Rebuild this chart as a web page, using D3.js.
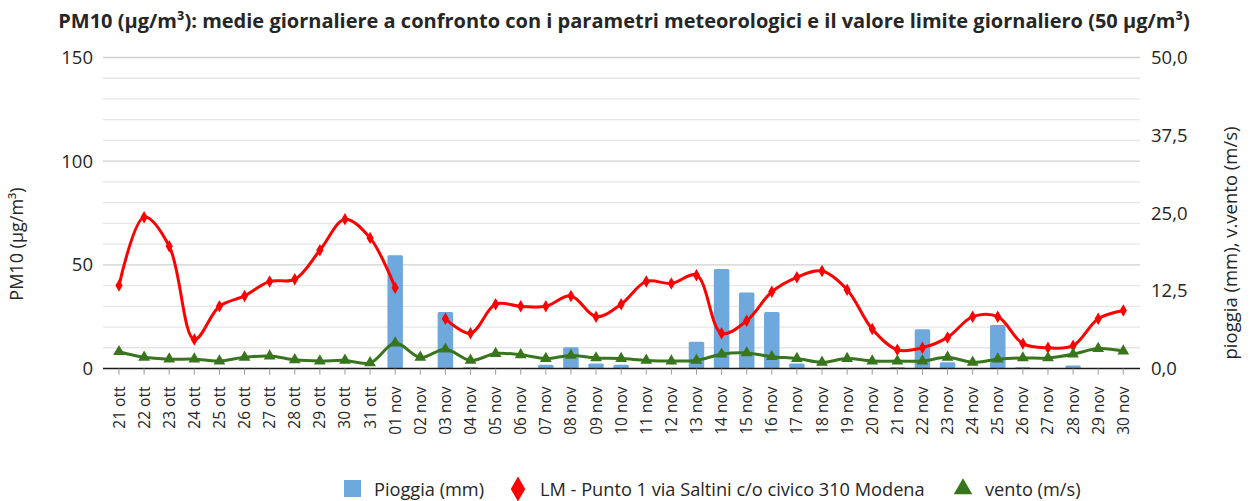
<!DOCTYPE html>
<html><head><meta charset="utf-8">
<script src="https://cdn.jsdelivr.net/npm/d3@7"></script>
<style>body{margin:0;background:#fff}svg{display:block}text{font-family:"Open Sans",sans-serif;fill:#262626}</style>
</head><body><svg id="c" width="1251" height="501"></svg>
<script>
const categories = ["21 ott","22 ott","23 ott","24 ott","25 ott","26 ott","27 ott","28 ott","29 ott","30 ott","31 ott",
"01 nov","02 nov","03 nov","04 nov","05 nov","06 nov","07 nov","08 nov","09 nov","10 nov","11 nov","12 nov","13 nov","14 nov","15 nov","16 nov","17 nov","18 nov","19 nov","20 nov","21 nov","22 nov","23 nov","24 nov","25 nov","26 nov","27 nov","28 nov","29 nov","30 nov"];
const pm10 = [40,73,59,14,30,35,42,43,57,72,63,
39,null,24,17,31,30,30,35,25,31,42,41,45,17,23,37,44,47,38,19,9,10,15,25,25,12,10,11,24,28];
const pioggia = [0,0,0,0,0,0,0,0,0,0,0,
18.2,0,9.1,0.2,0,0,0.6,3.4,0.8,0.6,0,0,4.3,16.0,12.2,9.1,0.8,0,0,0,0.2,6.3,1.0,0,7.0,0.2,0,0.5,0,0];
const vento = [2.7,1.8,1.5,1.5,1.2,1.8,2.0,1.4,1.2,1.3,0.9,
4.1,1.8,3.1,1.3,2.4,2.2,1.6,2.1,1.7,1.6,1.3,1.2,1.3,2.3,2.5,1.9,1.6,1.0,1.6,1.2,1.2,1.2,1.8,1.0,1.5,1.7,1.7,2.3,3.2,2.8];
const leftTicks = [0,50,100,150];
const rightTicks = [0,12.5,25,37.5,50];
const title = "PM10 (µg/m³): medie giornaliere a confronto con i parametri meteorologici e il valore limite giornaliero (50 µg/m³)";

const svg = d3.select("#c");
const L = 103, R = 1140, T = 57.5, B = 368.5;
const x = d3.scalePoint().domain(categories).range([119, 1123.3]);
const yL = d3.scaleLinear().domain([0,150]).range([B,T]);
const yR = d3.scaleLinear().domain([0,50]).range([B,T]);

const grid = d3.range(10,151,10);
svg.append("g").selectAll("line").data(grid).join("line")
  .attr("x1",L).attr("x2",R).attr("y1",d=>yL(d)).attr("y2",d=>yL(d))
  .attr("stroke",d=>d%50===0?"#d0d0d0":"#e6e6e6").attr("stroke-width",1.3);

svg.append("g").selectAll("text").data(leftTicks).join("text")
  .attr("x",93).attr("y",d=>yL(d)).attr("dy","0.36em").attr("text-anchor","end")
  .style("font-size","18.5px").text(d=>d);
const fmt = d=>d3.format(".1f")(d).replace(".",",");
svg.append("g").selectAll("text").data(rightTicks).join("text")
  .attr("x",1151).attr("y",d=>yR(d)).attr("dy","0.36em").attr("text-anchor","start")
  .style("font-size","18.5px").text(fmt);

const bw = 15.5;
svg.append("g").selectAll("rect").data(categories.map((c,i)=>({c,v:pioggia[i]})).filter(d=>d.v>0)).join("rect")
  .attr("x",d=>x(d.c)-bw/2).attr("width",bw)
  .attr("y",d=>yR(d.v)).attr("height",d=>B-yR(d.v))
  .attr("rx",1.5).attr("fill","#6fa8dc");

svg.append("line").attr("x1",L).attr("x2",R).attr("y1",B).attr("y2",B).attr("stroke","#1a1a1a").attr("stroke-width",1.3);
svg.append("g").selectAll("line").data(categories).join("line")
  .attr("x1",d=>x(d)).attr("x2",d=>x(d)).attr("y1",B).attr("y2",B+6).attr("stroke","#999");
svg.append("g").selectAll("text").data(categories).join("text")
  .attr("transform",d=>`translate(${x(d)+5.5},${B+18}) rotate(-90)`)
  .attr("text-anchor","end").style("font-size","15.5px").text(d=>d);

const pmData = categories.map((c,i)=>({c,v:pm10[i]}));
const lineL = d3.line().defined(d=>d.v!=null).x(d=>x(d.c)).y(d=>yL(d.v)).curve(d3.curveCatmullRom.alpha(0.5));
svg.append("path").datum(pmData).attr("d",lineL).attr("fill","none").attr("stroke","#ff0000").attr("stroke-width",3);
const diamond = d3.symbol().type(d3.symbolDiamond).size(45);
svg.append("g").selectAll("path").data(pmData.filter(d=>d.v!=null)).join("path")
  .attr("transform",d=>`translate(${x(d.c)},${yL(d.v)})`).attr("d",diamond).attr("fill","#ff0000");

const vData = categories.map((c,i)=>({c,v:vento[i]}));
const lineR = d3.line().x(d=>x(d.c)).y(d=>yR(d.v)).curve(d3.curveCatmullRom.alpha(0.5));
svg.append("path").datum(vData).attr("d",lineR).attr("fill","none").attr("stroke","#38761d").attr("stroke-width",3);
const tri = d3.symbol().type(d3.symbolTriangle).size(60);
svg.append("g").selectAll("path").data(vData).join("path")
  .attr("transform",d=>`translate(${x(d.c)},${yR(d.v)})`).attr("d",tri).attr("fill","#38761d");

svg.append("text").attr("x",624).attr("y",28).attr("text-anchor","middle")
  .style("font-size","20px").style("font-weight","bold").text(title);
svg.append("text").attr("transform","translate(23,244) rotate(-90)").attr("text-anchor","middle")
  .style("font-size","18px").text("PM10 (µg/m³)");
svg.append("text").attr("transform","translate(1237,243) rotate(-90)").attr("text-anchor","middle")
  .style("font-size","18.5px").text("pioggia (mm), v.vento (m/s)");

const lg = svg.append("g");
lg.append("rect").attr("x",344).attr("y",480).attr("width",17).attr("height",17).attr("fill","#6fa8dc");
lg.append("text").attr("x",374).attr("y",489).attr("dy","0.36em").style("font-size","18.2px").text("Pioggia (mm)");
lg.append("path").attr("transform","translate(518,489)").attr("d",d3.symbol().type(d3.symbolDiamond).size(180)).attr("fill","#ff0000");
lg.append("text").attr("x",540).attr("y",489).attr("dy","0.36em").style("font-size","18.2px").text("LM - Punto 1 via Saltini c/o civico 310 Modena");
lg.append("path").attr("transform","translate(963,489)").attr("d",d3.symbol().type(d3.symbolTriangle).size(150)).attr("fill","#38761d");
lg.append("text").attr("x",985).attr("y",489).attr("dy","0.36em").style("font-size","18.2px").text("vento (m/s)");
</script></body></html>
